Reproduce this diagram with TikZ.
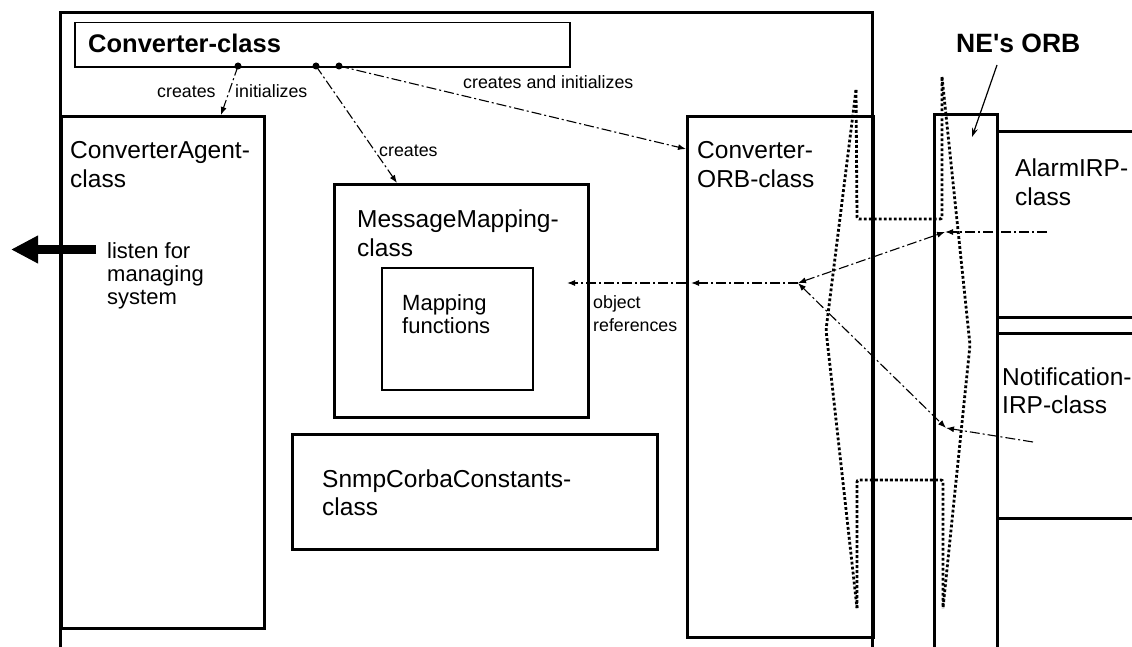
\documentclass[tikz,border=0pt]{standalone}
\usepackage{fontspec}
\setmainfont{Liberation Sans}
\usetikzlibrary{arrows.meta}

\begin{document}
\begin{tikzpicture}[x=1pt,y=-1pt,
  heavy/.style={line width=3pt},
  classbox/.style={draw, line width=3pt, inner sep=0pt, anchor=north west},
  thinbox/.style={draw, line width=1.5pt, inner sep=0pt, anchor=north west},
  big/.style={font=\fontsize{24.5}{28.7}\selectfont, align=left, inner sep=0pt, anchor=base west},
  mid/.style={font=\fontsize{22}{23}\selectfont, align=left, inner sep=0pt, anchor=base west},
  small/.style={font=\fontsize{17.8}{23.5}\selectfont, align=left, inner sep=0pt, anchor=base west},
  bold/.style={font=\bfseries\fontsize{25.5}{28}\selectfont, inner sep=0pt, anchor=base west},
  ref/.style={line width=1.1pt, dash pattern=on 10pt off 3pt on 2pt off 3pt},
  tip/.style={-{Latex[length=8pt,width=6pt]}},
  twotip/.style={{Latex[length=8pt,width=6pt]}-{Latex[length=8pt,width=6pt]}},
  orbline/.style={line width=2.8pt, dash pattern=on 2.8pt off 2.2pt, rounded corners=2pt},
  joint/.style={circle, fill, inner sep=0pt, minimum size=7pt}
]
\useasboundingbox (0,0) rectangle (1132,647);
\clip (0,0) rectangle (1132,647);
\fill[white] (0,0) rectangle (1132,647);

% frame of the converter, open at the bottom
\draw[heavy] (60,660) -- (60,13) -- (872,13) -- (872,660);

% NE's ORB column and the IRP classes beside it
\draw[heavy] (934,660) -- (934,115) -- (997,115) -- (997,660);
\draw[heavy] (997,132) -- (1140,132);
\draw[heavy] (997,317) -- (1140,317);
\draw[heavy] (997,333) -- (1140,333);
\draw[heavy] (997,518) -- (1140,518);

% class boxes
\node[thinbox, minimum width=495pt, minimum height=44.5pt] (conv) at (74,22) {};
\node[classbox, minimum width=203pt, minimum height=512pt] (agent) at (60,115) {};
\node[classbox, minimum width=254pt, minimum height=233pt] (mm) at (333,183) {};
\node[thinbox, minimum width=151pt, minimum height=122pt] (mapf) at (381,267) {};
\node[classbox, minimum width=365pt, minimum height=115pt] (snmp) at (291,433) {};
\node[classbox, minimum width=186pt, minimum height=521pt] (orb) at (686,115) {};

% texts (multi-line nodes are placed by the baseline of their last line)
\node[bold] (convT) at (88,53) {Converter-class};
\node[bold, font=\bfseries\fontsize{26.5}{28}\selectfont] (neT) at (956,53) {NE\textquotesingle s ORB};
\node[big] (agentT) at (70,187.7) {ConverterAgent-\\class};
\node[big] (mmT) at (357,256.7) {MessageMapping-\\class};
\node[mid] (mapfT) at (402,333) {Mapping\\functions};
\node[big] (snmpT) at (322,515.7) {SnmpCorbaConstants-\\class};
\node[big] (orbT) at (697,187.7) {Converter-\\ORB-class};
\node[big] (alarmT) at (1015,205.7) {AlarmIRP-\\class};
\node[big] (notifT) at (1002,413.7) {Notification-\\IRP-class};
\node[mid] (listenT) at (107,304) {listen for\\managing\\system};
\node[small] (objT) at (593,331.5) {object\\references};
\node[small] (crA) at (157,98) {creates};
\node[small] (inA) at (235,98) {initializes};
\node[small] (crB) at (379,157) {creates};
\node[small] (crC) at (463,89) {creates and initializes};

% attachment points on the Converter-class box
\node[joint] (d1) at (238,66) {};
\node[joint] (d2) at (316,66) {};
\node[joint] (d3) at (339,66) {};
\coordinate (t1) at (221,115);
\coordinate (t2) at (397,183);
\coordinate (t3) at (686,149);
\draw[ref, tip] (d1.center) -- (t1);
\draw[ref, tip] (d2.center) -- (t2);
\draw[ref, tip] (d3.center) -- (t3);

% ORBs drawn as dotted spindles
\draw[orbline] (856,90) -- (826,330) -- (857,608);
\draw[orbline] (856,90) -- (857,219) -- (942,219) -- (942,77);
\draw[orbline] (942,77) -- (970,345) -- (943,608);
\draw[orbline] (857,608) -- (857,480) -- (943,480) -- (943,608);

% object references passed through the ORBs
\coordinate (jn) at (798,283);
\coordinate (alarmIn) at (1047,232);
\coordinate (alarmB) at (945,232);
\coordinate (notifIn) at (1033,442);
\coordinate (notifB) at (946,428);
\coordinate (orbIn) at (691,283);
\coordinate (orbOut) at (686,283);
\coordinate (mapIn) at (567,283);
\draw[ref, tip] (alarmIn) -- (alarmB);
\draw[ref, tip] (notifIn) -- (notifB);
\draw[ref, twotip] (jn) -- (alarmB);
\draw[ref, twotip] (jn) -- (notifB);
\draw[ref, tip] (jn) -- (orbIn);
\draw[ref, tip] (orbOut) -- (mapIn);

% interface towards the managing system
\coordinate (lsrc) at (96,249.5);
\coordinate (ltip) at (11,249.5);
\draw[line width=9.5pt, -{Triangle[length=27pt,width=26pt]}] (lsrc) -- (ltip);

% pointer to the NE's ORB
\coordinate (nesrc) at (997,65);
\coordinate (netip) at (972,137);
\draw[line width=1.2pt, -{Stealth[length=9pt,width=6pt]}] (nesrc) -- (netip);
\end{tikzpicture}
\end{document}
